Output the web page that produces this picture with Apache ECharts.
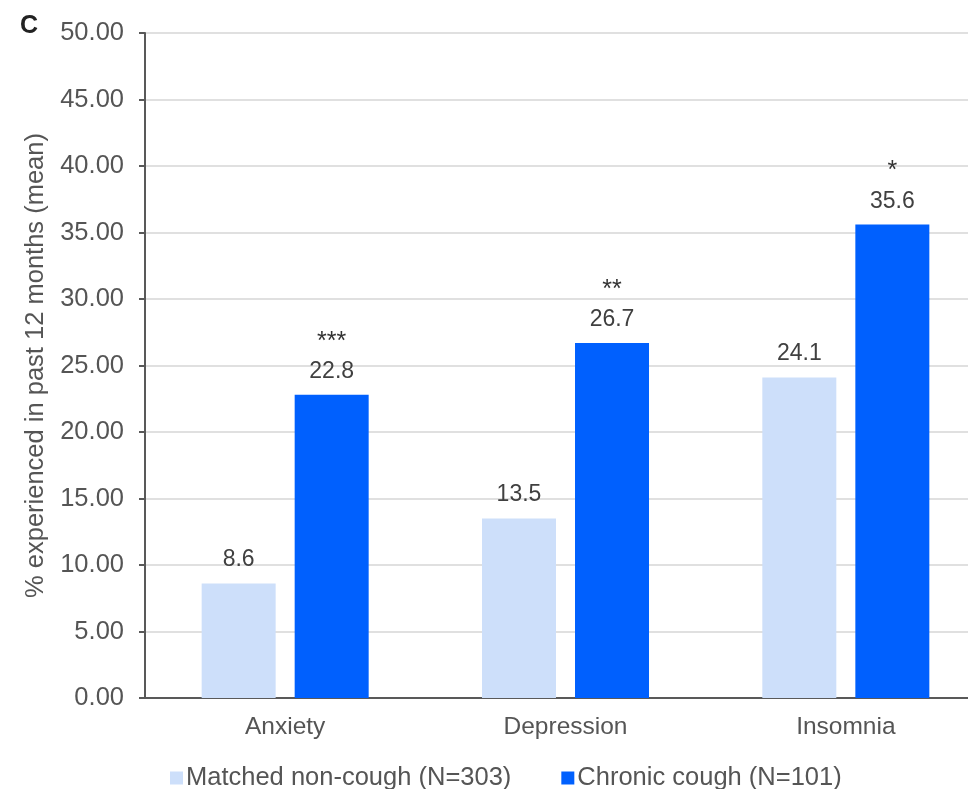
<!DOCTYPE html>
<html><head><meta charset="utf-8">
<script src="https://cdn.jsdelivr.net/npm/echarts@6/dist/echarts.min.js"></script>
<style>html,body{margin:0;padding:0;background:#fff;overflow:hidden}#c{width:986px;height:789px}</style>
</head><body><div id="c"></div>
<script>
const categories = ['Anxiety', 'Depression', 'Insomnia'];
const matchedNonCough = [8.6, 13.5, 24.1];
const chronicCough = [22.8, 26.7, 35.6];
const significance = ['***', '**', '*'];
const seriesNames = ['Matched non-cough (N=303)', 'Chronic cough (N=101)'];
const yTitle = '% experienced in past 12 months (mean)';

const FONT = '"Liberation Sans", Arial, sans-serif';
const chart = echarts.init(document.getElementById('c'));
chart.setOption({
  animation: false,
  textStyle: { fontFamily: FONT },
  title: { text: 'C', left: 15, top: 9, textStyle: { fontSize: 25, fontWeight: 'bold', color: '#222', fontFamily: FONT } },
  grid: { left: 145, right: 0, top: 33, bottom: 91, containLabel: false },
  legend: {
    data: seriesNames, left: 165, top: 760, itemWidth: 13, itemHeight: 13, itemGap: 50,
    icon: 'rect',
    textStyle: { fontSize: 25.5, color: '#555', fontFamily: FONT, padding: [0, 0, 0, -2] }
  },
  xAxis: {
    type: 'category', data: categories,
    axisLine: { lineStyle: { color: '#595959', width: 2 } },
    axisTick: { show: false },
    axisLabel: { fontSize: 24.5, color: '#555', margin: 17, fontFamily: FONT }
  },
  yAxis: {
    type: 'value', min: 0, max: 50, interval: 5,
    name: yTitle, nameLocation: 'middle', nameGap: 92, nameRotate: 90,
    nameTextStyle: { fontSize: 25.5, color: '#555', fontFamily: FONT },
    axisLine: { show: true, lineStyle: { color: '#595959', width: 2 } },
    axisTick: { show: true, length: 6, lineStyle: { color: '#595959', width: 2 } },
    axisLabel: { fontSize: 25.5, color: '#555', margin: 21, fontFamily: FONT, formatter: v => v.toFixed(2) },
    splitLine: { lineStyle: { color: '#e0e0e0', width: 2 } }
  },
  series: [
    {
      name: seriesNames[0], type: 'bar', data: matchedNonCough, barWidth: 74, barGap: '25.7%',
      itemStyle: { color: '#cddffa' },
      label: { show: true, position: 'top', distance: 12, fontSize: 23, color: '#404040', fontFamily: FONT,
        formatter: p => p.value.toFixed(1) }
    },
    {
      name: seriesNames[1], type: 'bar', data: chronicCough, barWidth: 74,
      itemStyle: { color: '#0060fe' },
      label: { show: true, position: 'top', distance: 12, color: '#404040', fontFamily: FONT,
        formatter: p => '{s|' + significance[p.dataIndex] + '}\n{v|' + p.value.toFixed(1) + '}',
        rich: {
          s: { fontSize: 25, lineHeight: 38, color: '#333', fontFamily: FONT },
          v: { fontSize: 23, lineHeight: 22, color: '#404040', fontFamily: FONT }
        } }
    }
  ]
});
</script></body></html>
